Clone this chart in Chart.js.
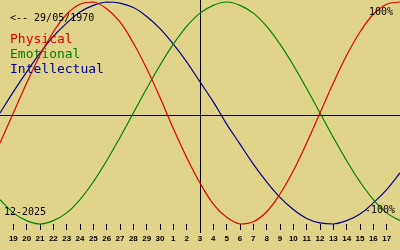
<!DOCTYPE html>
<html>
<head>
<meta charset="utf-8">
<script src="https://cdn.jsdelivr.net/npm/chart.js@4/dist/chart.umd.min.js"></script>
<style>
  html, body { margin: 0; padding: 0; background: rgb(224,212,138); }
  canvas { display: block; }
</style>
</head>
<body>
<canvas id="c" width="400" height="250"></canvas>
<script>
// Days shown (18 Nov 2025 .. 18 Dec 2025); centre day is 3 Dec 2025
const days = ['18','19','20','21','22','23','24','25','26','27','28','29','30',
              '1','2','3','4','5','6','7','8','9','10','11','12','13','14','15','16','17','18'];
const centreIndex = 15;
// Biorhythm values (-1 .. 1), one per day
const physical = [-0.27, 0, 0.27, 0.52, 0.73, 0.89, 0.98, 1.00, 0.94, 0.82, 0.63, 0.40, 0.14,
  -0.14, -0.40, -0.63, -0.82, -0.94, -1.00, -0.98, -0.89, -0.73, -0.52, -0.27, 0,
  0.27, 0.52, 0.73, 0.89, 0.98, 1.00];
const emotional = [-0.78, -0.90, -0.97, -1.00, -0.97, -0.90, -0.78, -0.62, -0.43, -0.22, 0,
  0.22, 0.43, 0.62, 0.78, 0.90, 0.97, 1.00, 0.97, 0.90, 0.78, 0.62, 0.43, 0.22, 0,
  -0.22, -0.43, -0.62, -0.78, -0.90, -0.97];
const intellectual = [0, 0.19, 0.37, 0.54, 0.69, 0.81, 0.91, 0.97, 1.00, 0.99, 0.95, 0.87,
  0.76, 0.62, 0.46, 0.28, 0.10, -0.10, -0.28, -0.46, -0.62, -0.76, -0.87, -0.95, -0.99,
  -1.00, -0.97, -0.91, -0.81, -0.69, -0.54];
const seriesNames = ['Physical', 'Emotional', 'Intellectual'];
const seriesColors = ['rgb(225,0,0)', 'rgb(0,128,0)', 'rgb(0,0,140)'];
const birthLabel = '<-- 29/05/1970';
const monthLabel = '12-2025';
const topLabel = '100%';
const bottomLabel = '-100%';

const overlay = {
  id: 'overlay',
  beforeDraw(chart) {
    const ctx = chart.ctx;
    ctx.save();
    ctx.fillStyle = 'rgb(224,212,138)';
    ctx.fillRect(0, 0, chart.width, chart.height);
    ctx.restore();
  },
  beforeDatasetsDraw(chart) {
    const ctx = chart.ctx, x = chart.scales.x, y = chart.scales.y;
    ctx.save();
    ctx.strokeStyle = '#000';
    ctx.lineWidth = 1;
    const zy = Math.round(y.getPixelForValue(0)) + 2.5;
    ctx.beginPath();
    ctx.moveTo(0, zy); ctx.lineTo(chart.width, zy);
    const cx = Math.round(x.getPixelForValue(centreIndex)) + 0.5;
    ctx.moveTo(cx, 0); ctx.lineTo(cx, chart.chartArea.bottom + 9);
    ctx.stroke();
    ctx.restore();
  },
  afterDraw(chart) {
    const ctx = chart.ctx;
    ctx.save();
    ctx.textBaseline = 'alphabetic';
    ctx.font = '10px "DejaVu Sans Mono"';
    ctx.fillStyle = '#000';
    ctx.textAlign = 'left';
    ctx.fillText(birthLabel, 10, 21);
    ctx.fillText(monthLabel, 4, 215);
    ctx.textAlign = 'right';
    ctx.fillText(topLabel, 393, 15);
    ctx.fillText(bottomLabel, 395, 213);
    ctx.textAlign = 'left';
    ctx.font = '13px "DejaVu Sans Mono"';
    seriesNames.forEach((n, i) => {
      ctx.fillStyle = seriesColors[i];
      ctx.fillText(n, 10, 43 + i * 15);
    });
    ctx.restore();
  }
};

const mk = (label, data, color) => ({
  label, data, borderColor: color, borderWidth: 1.2, pointRadius: 0,
  tension: 0.4, fill: false, clip: false
});

new Chart(document.getElementById('c'), {
  type: 'line',
  data: {
    labels: days,
    datasets: [
      mk(seriesNames[0], physical, seriesColors[0]),
      mk(seriesNames[1], emotional, seriesColors[1]),
      mk(seriesNames[2], intellectual, seriesColors[2])
    ]
  },
  options: {
    responsive: false,
    animation: false,
    layout: { padding: { top: 2, left: 0, right: 0, bottom: 0 } },
    plugins: { legend: { display: false }, tooltip: { enabled: false } },
    scales: {
      x: {
        type: 'category',
        offset: false,
        afterBuildTicks: s => { s.ticks = s.ticks.filter(t => t.value > 0 && t.value < days.length - 1); },
        afterFit: s => { s.height = 26; },
        border: { display: false },
        grid: { drawOnChartArea: false, drawTicks: true, tickLength: 6, color: '#000', lineWidth: 1 },
        ticks: {
          autoSkip: false, maxRotation: 0, minRotation: 0, padding: 4,
          color: '#000', font: { family: '"Liberation Sans"', size: 8, weight: 'bold' }
        }
      },
      y: {
        display: false, min: -1, max: 1
      }
    }
  },
  plugins: [overlay]
});
</script>
</body>
</html>
